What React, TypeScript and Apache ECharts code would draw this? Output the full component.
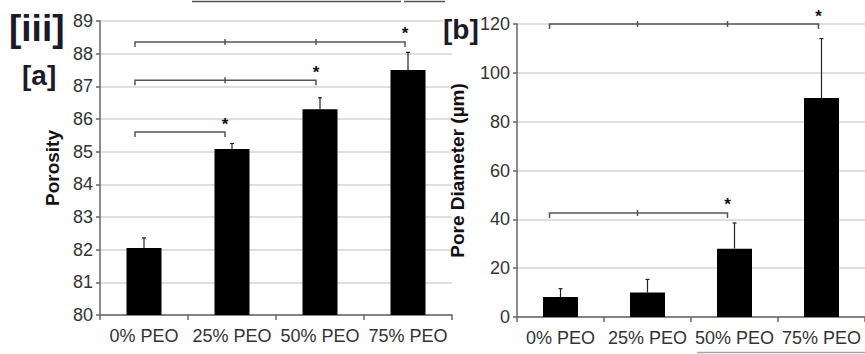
import React, { useEffect, useRef } from "react";
import * as echarts from "echarts";

const categories = ["0% PEO", "25% PEO", "50% PEO", "75% PEO"];
const porosity = [82.05, 85.08, 86.3, 87.5];
const porosityErrTop = [82.36, 85.25, 86.65, 88.04];
const poreDiameter = [8.2, 10, 28, 89.7];
const poreDiameterErrTop = [11.6, 15.4, 38.5, 114];
// [from category, to category, y value]
const porosityBrackets = [
  [0, 1, 85.6],
  [0, 2, 87.19],
  [0, 3, 88.36],
];
const poreBrackets = [
  [0, 2, 42.6],
  [0, 3, 120],
];
const porosityAxis = { min: 80, max: 89, interval: 1 };
const poreAxis = { min: 0, max: 120, interval: 20 };

const FONT = "'Liberation Sans', Arial, sans-serif";
const AXIS_COLOR = "#666";
const LABEL_COLOR = "#333";

function errorRender(params: any, api: any) {
  const x = api.value(0);
  const lo = api.coord([x, api.value(1)]);
  const hi = api.coord([x, api.value(2)]);
  const st = { stroke: "#222", lineWidth: 1.2 };
  return {
    type: "group",
    children: [
      { type: "line", shape: { x1: lo[0], y1: lo[1], x2: hi[0], y2: hi[1] }, style: st },
      { type: "line", shape: { x1: hi[0] - 2, y1: hi[1], x2: hi[0] + 2, y2: hi[1] }, style: st },
    ],
  };
}

function makeBracketRender(offs: number[]) {
  return function (params: any, api: any) {
    const i = api.value(0);
    const j = api.value(1);
    const y = api.value(2);
    const p = (k: number) => {
      const c = api.coord([k, y]);
      return [c[0] + offs[k], c[1]];
    };
    const a = p(i);
    const b = p(j);
    const st = { stroke: "#555", lineWidth: 1.5, fill: null };
    const children: any[] = [
      {
        type: "polyline",
        shape: { points: [[a[0], a[1] + 5], [a[0], a[1]], [b[0], b[1]], [b[0], b[1] + 5]] },
        style: st,
      },
    ];
    for (let k = i + 1; k < j; k++) {
      const m = p(k);
      children.push({ type: "line", shape: { x1: m[0], y1: m[1] - 3, x2: m[0], y2: m[1] + 3 }, style: st });
    }
    children.push({
      type: "text",
      x: b[0],
      y: b[1] - 8,
      style: { text: "*", fontSize: 17, fontWeight: "bold", fill: "#111", align: "center", verticalAlign: "middle", fontFamily: FONT },
    });
    return { type: "group", children };
  };
}

function axisY(idx: number, range: any, name: string, nameGap: number) {
  return {
    type: "value",
    gridIndex: idx,
    ...range,
    name,
    nameLocation: "middle",
    nameGap,
    nameTextStyle: { fontFamily: FONT, fontSize: 19, fontWeight: "bold", color: "#111" },
    axisLine: { show: true, lineStyle: { color: AXIS_COLOR, width: 1.5 } },
    axisTick: { show: true, length: 4, lineStyle: { color: AXIS_COLOR, width: 1.5 } },
    axisLabel: { fontFamily: FONT, fontSize: 18, color: LABEL_COLOR, margin: 7 },
    splitLine: { show: true, lineStyle: { color: "#d4d4d4", width: 1.5 } },
  };
}

function axisX(idx: number) {
  return {
    type: "category",
    gridIndex: idx,
    data: categories,
    axisLine: { show: true, lineStyle: { color: AXIS_COLOR, width: 1.5 } },
    axisTick: { show: true, length: 5, lineStyle: { color: AXIS_COLOR, width: 1.5 } },
    axisLabel: { fontFamily: FONT, fontSize: 18, color: LABEL_COLOR, margin: 12, interval: 0 },
  };
}

export default function App() {
  const ref = useRef<HTMLDivElement>(null);
  useEffect(() => {
    document.body.style.margin = "0";
    const chart = echarts.init(ref.current!, null, { renderer: "svg" });
    chart.setOption({
      animation: false,
      backgroundColor: "#fff",
      grid: [
        { left: 100, top: 21, width: 352, height: 294 },
        { left: 517, top: 24, width: 348, height: 293 },
      ],
      xAxis: [axisX(0), axisX(1)],
      yAxis: [axisY(0, porosityAxis, "Porosity", 38), axisY(1, poreAxis, "Pore Diameter (µm)", 50)],
      graphic: [
        { type: "line", shape: { x1: 192, y1: 1.5, x2: 401, y2: 1.5 }, style: { stroke: "#555", lineWidth: 1.5 } },
        { type: "line", shape: { x1: 404, y1: 1.5, x2: 445, y2: 1.5 }, style: { stroke: "#555", lineWidth: 1.5 } },
        { type: "line", shape: { x1: 697, y1: 352.5, x2: 865, y2: 352.5 }, style: { stroke: "#9aa", lineWidth: 1.5 } },
        { type: "text", left: 9, top: 10, style: { text: "[iii]", fontFamily: FONT, fontSize: 37, fontWeight: "bold", fill: "#1a1a2a" } },
        { type: "text", left: 22, top: 61, style: { text: "[a]", fontFamily: FONT, fontSize: 28, fontWeight: "bold", fill: "#1a1a2a" } },
        { type: "text", left: 443, top: 15, z: 10, style: { text: "[b]", fontFamily: FONT, fontSize: 28, fontWeight: "bold", fill: "#1a1a2a", backgroundColor: "#fff" } },
      ],
      series: [
        { type: "bar", xAxisIndex: 0, yAxisIndex: 0, data: porosity, barWidth: 35, itemStyle: { color: "#000" }, z: 2 },
        {
          type: "custom", xAxisIndex: 0, yAxisIndex: 0, z: 3, clip: false,
          data: porosityErrTop.map((v, i) => [i, porosity[i], v]),
          encode: { x: 0, y: [1, 2] }, renderItem: errorRender,
        },
        {
          type: "custom", xAxisIndex: 0, yAxisIndex: 0, z: 4, clip: false,
          data: porosityBrackets, encode: { x: 0, y: 2 }, renderItem: makeBracketRender([-9, -7, -4, -3]),
        },
        { type: "bar", xAxisIndex: 1, yAxisIndex: 1, data: poreDiameter, barWidth: 35, itemStyle: { color: "#000" }, z: 2 },
        {
          type: "custom", xAxisIndex: 1, yAxisIndex: 1, z: 3, clip: false,
          data: poreDiameterErrTop.map((v, i) => [i, poreDiameter[i], v]),
          encode: { x: 0, y: [1, 2] }, renderItem: errorRender,
        },
        {
          type: "custom", xAxisIndex: 1, yAxisIndex: 1, z: 4, clip: false,
          data: poreBrackets, encode: { x: 0, y: 2 }, renderItem: makeBracketRender([-11, -10, -7, -3]),
        },
      ],
    });
    return () => chart.dispose();
  }, []);
  return <div ref={ref} style={{ width: 865, height: 354 }} />;
}
